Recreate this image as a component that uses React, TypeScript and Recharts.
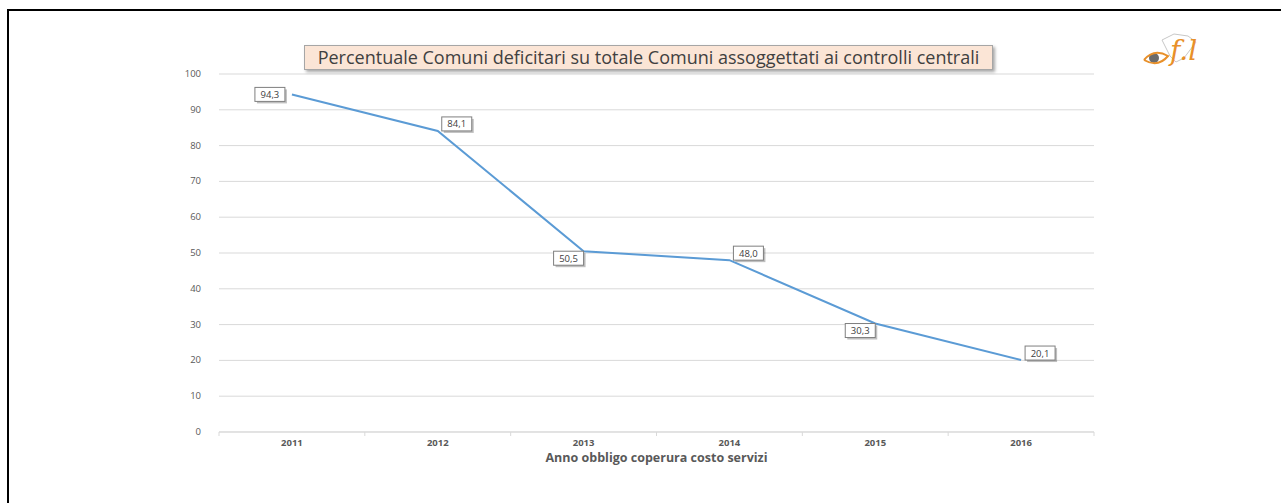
import { CartesianGrid, Label, Line, LineChart, XAxis, YAxis } from "recharts";

const years = ["2011", "2012", "2013", "2014", "2015", "2016"];
const percentuale = [94.3, 84.1, 50.5, 48.0, 30.3, 20.1];
const yTicks = [0, 10, 20, 30, 40, 50, 60, 70, 80, 90, 100];
// where each data label sits relative to its point (Excel placement)
const labelPlacement = ["left", "right", "belowLeft", "right", "belowLeft", "right"];

const chartData = years.map((year, i) => ({ year, value: percentuale[i] }));

const FONT = "'Open Sans', 'Noto Sans', sans-serif";
const GRID = "#d9d9d9";
const LINE = "#5b9bd5";

function YTick({ x, y, payload }: any) {
  return (
    <text x={x + 6} y={y + 3} textAnchor="end" fontSize={9.5} fill="#595959" fontFamily={FONT}>
      {payload.value}
    </text>
  );
}

function XTick({ x, y, payload, index }: any) {
  const half = payload.offset ?? 0;
  return (
    <g>
      <line x1={x - half} y1={y - 8} x2={x - half} y2={y - 4} stroke={GRID} />
      {index === years.length - 1 && (
        <line x1={x + half} y1={y - 8} x2={x + half} y2={y - 4} stroke={GRID} />
      )}
      <text x={x} y={y + 6} textAnchor="middle" fontSize={9.5} fontWeight="bold" fill="#595959" fontFamily={FONT}>
        {payload.value}
      </text>
    </g>
  );
}

function DataLabel({ x, y, value, index }: any) {
  const w = 30;
  const h = 14;
  const place = labelPlacement[index];
  let bx = x + 4;
  let by = y - h;
  if (place === "left") {
    bx = x - w - 7;
    by = y - h / 2;
  } else if (place === "belowLeft") {
    bx = x - w;
    by = y;
  }
  const text = Number(value).toFixed(1).replace(".", ",");
  return (
    <g>
      <rect x={bx + 2} y={by + 2} width={w} height={h} fill="#000" opacity={0.25} />
      <rect x={bx} y={by} width={w} height={h} fill="#fff" stroke="#7f7f7f" strokeWidth={1} />
      <text x={bx + w / 2} y={by + 10.5} textAnchor="middle" fontSize={9.5} fill="#404040" fontFamily={FONT}>
        {text}
      </text>
    </g>
  );
}

export default function App() {
  return (
    <div style={{ position: "absolute", left: 0, top: 0, width: 1281, height: 503, background: "#fff", overflow: "hidden" }}>
      <div style={{ position: "absolute", left: 7, top: 9, width: 1290, height: 510, borderLeft: "2px solid #000", borderTop: "2px solid #000" }} />
      <LineChart
        width={1281}
        height={503}
        data={chartData}
        margin={{ top: 74, right: 187, bottom: 0, left: 0 }}
      >
        <CartesianGrid horizontal vertical={false} stroke={GRID} />
        <XAxis
          dataKey="year"
          scale="band"
          height={71}
          axisLine={{ stroke: GRID }}
          tickLine={false}
          tick={<XTick />}
          interval={0}
        >
          <Label
            value="Anno obbligo coperura costo servizi"
            position="insideTop"
            offset={21}
            fontSize={12.5}
            fontWeight="bold"
            fill="#595959"
            fontFamily={FONT}
          />
        </XAxis>
        <YAxis
          width={219}
          domain={[0, 100]}
          ticks={yTicks}
          axisLine={false}
          tickLine={false}
          tick={<YTick />}
          tickMargin={18}
          interval={0}
        />
        <Line
          type="linear"
          dataKey="value"
          stroke={LINE}
          strokeWidth={2}
          dot={false}
          isAnimationActive={false}
          label={<DataLabel />}
        />
      </LineChart>
      <div
        style={{
          position: "absolute",
          left: 304,
          top: 45,
          width: 687,
          height: 23,
          background: "#fbe5d6",
          border: "1px solid #a6a6a6",
          boxShadow: "2px 2px 3px rgba(0,0,0,0.35)",
          fontFamily: FONT,
          fontSize: 18,
          color: "#404040",
          lineHeight: "23px",
          textAlign: "center",
          whiteSpace: "nowrap",
        }}
      >
        Percentuale Comuni deficitari su totale Comuni assoggettati ai controlli centrali
      </div>
      <svg style={{ position: "absolute", left: 1140, top: 26 }} width={70} height={46}>
        <path d="M22 14 L34 8 L48 10 L56 16 L50 24 L44 32 L36 36 L30 30 Z" fill="none" stroke="#c8c8c8" strokeWidth={1} />
        <circle cx={14} cy={32} r={5} fill="#6b6b6b" />
        <path d="M4 34 Q14 22 28 30 Q18 42 4 34" fill="none" stroke="#e8902a" strokeWidth={2} />
        <text x={30} y={34} fontSize={28} fontStyle="italic" fontFamily="'DejaVu Serif', serif" fill="#e8902a">
          f.l
        </text>
      </svg>
    </div>
  );
}
